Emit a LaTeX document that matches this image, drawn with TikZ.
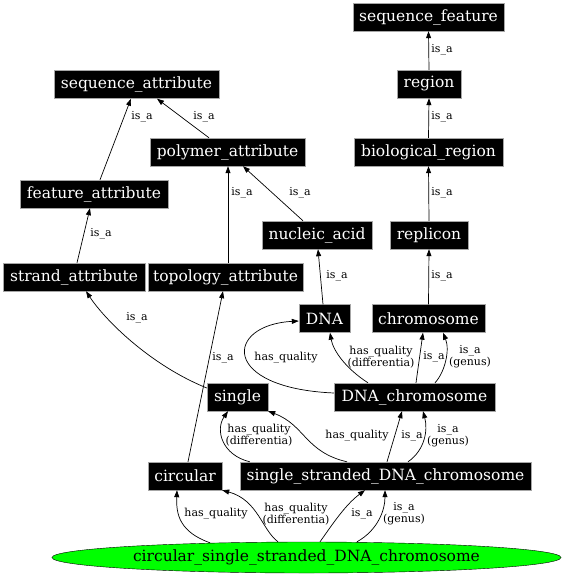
\documentclass[tikz,border=0pt]{standalone}
\usepackage{fontspec}
\setmainfont{DejaVu Serif}
\usetikzlibrary{arrows.meta,shapes.geometric}
\begin{document}
\begin{tikzpicture}[x=1pt,y=-1pt,
  box/.style={draw=gray!70,fill=black,text=white,font=\fontsize{15.5}{18}\selectfont,minimum height=28pt,inner sep=0pt},
  lbl/.style={font=\fontsize{11}{12}\selectfont,align=center,inner sep=0pt},
  edge/.style={-{Triangle[length=7pt,width=5pt]},line width=0.7pt},
]
\useasboundingbox (0,0) rectangle (568,576);
% nodes
\node[box,minimum width=151pt] (sf) at (428.5,17) {sequence\_feature};
\node[box,minimum width=64pt] (region) at (429,84) {region};
\node[box,minimum width=149pt] (bio) at (428.5,152) {biological\_region};
\node[box,minimum width=78pt] (rep) at (429,235) {replicon};
\node[box,minimum width=110pt] (na) at (317,235) {nucleic\_acid};
\node[box,minimum width=165pt] (sa) at (136.5,84.5) {sequence\_attribute};
\node[box,minimum width=155pt] (pa) at (227.5,152) {polymer\_attribute};
\node[box,minimum width=148pt] (fa) at (94,194) {feature\_attribute};
\node[box,minimum width=142pt] (st) at (74,277) {strand\_attribute};
\node[box,minimum width=155pt] (ta) at (225.5,277) {topology\_attribute};
\node[box,minimum width=51pt] (dna) at (324.5,318.5) {DNA};
\node[box,minimum width=113pt] (chr) at (428.5,318.5) {chromosome};
\node[box,minimum width=61pt] (single) at (237.5,397) {single};
\node[box,minimum width=161pt] (dnachr) at (414.5,397) {DNA\_chromosome};
\node[box,minimum width=74pt] (circ) at (185,476) {circular};
\node[box,minimum width=291pt] (ss) at (385.5,476) {single\_stranded\_DNA\_chromosome};
\node[ellipse,draw=black,fill=green,minimum width=509pt,minimum height=31pt,inner sep=0pt,font=\fontsize{15.5}{18}\selectfont] (cs) at (306.5,557.5) {circular\_single\_stranded\_DNA\_chromosome};
% right chain
\draw[edge] (region.north) -- (sf.south);
\draw[edge] (bio.north) -- (region.south);
\draw[edge] (rep.north) -- (bio.south);
\draw[edge] (chr.north) -- (rep.south);
% attributes
\draw[edge] ([xshift=-18.5pt]pa.north) -- ([xshift=20.5pt]sa.south);
\draw[edge] ([xshift=6pt]fa.north) -- ([xshift=-5.5pt]sa.south);
\draw[edge] ([xshift=3pt]st.north) -- ([xshift=-4pt]fa.south);
\draw[edge] ([xshift=2.5pt]ta.north) -- ([xshift=0.5pt]pa.south);
\draw[edge] ([xshift=-14pt]na.north) -- ([xshift=15.5pt]pa.south);
\draw[edge] ([xshift=-1.5pt]dna.north) -- ([xshift=1pt]na.south);
\draw[edge] ([yshift=9pt]single.west) .. controls (150,365) and (105,320) .. ([xshift=12pt]st.south);
\draw[edge] ([xshift=3pt]circ.north) -- ([xshift=-2.5pt]ta.south);
% DNA_chromosome
\draw[edge] ([yshift=4pt]dnachr.west) .. controls (220,388) and (225,325) .. ([yshift=-2.5pt]dna.west);
\draw[edge] ([xshift=-46.5pt]dnachr.north) .. controls (345,368) and (333,350) .. ([xshift=5.5pt]dna.south);
\draw[edge] ([xshift=1.5pt]dnachr.north) -- ([xshift=-5.5pt]chr.south);
\draw[edge] ([xshift=20.5pt]dnachr.north) .. controls (445,372) and (450,350) .. ([xshift=14.5pt]chr.south);
% single_stranded
\draw[edge] ([xshift=10pt]ss.north west) .. controls (222,455) and (215,430) .. ([xshift=-9.5pt]single.south);
\draw[edge] ([xshift=-38.5pt]ss.north) .. controls (305,452) and (305,425) .. (single.south east);
\draw[edge] ([xshift=1.5pt]ss.north) -- ([xshift=-12.5pt]dnachr.south);
\draw[edge] ([xshift=22.5pt]ss.north) .. controls (425,450) and (428,430) .. ([xshift=8.5pt]dnachr.south);
% circular_single_stranded
\draw[edge] ([xshift=-96.5pt,yshift=-1pt]cs.north) .. controls (180,532) and (176,515) .. ([xshift=-8pt]circ.south);
\draw[edge] ([xshift=-28.5pt]cs.north) .. controls (262,530) and (258,500) .. (circ.south east);
\draw[edge] ([xshift=13.5pt]cs.north) .. controls (332,525) and (345,505) .. ([xshift=-20.5pt]ss.south);
\draw[edge] ([xshift=50.5pt]cs.north) .. controls (378,530) and (385,510) .. ([xshift=-0.5pt]ss.south);
% labels
\node[lbl] (l1) at (442,50) {is\_a};
\node[lbl] (l2) at (442,117) {is\_a};
\node[lbl] (l3) at (442,193) {is\_a};
\node[lbl] (l4) at (442,276) {is\_a};
\node[lbl] (l5) at (204,117) {is\_a};
\node[lbl] (l6) at (142,117) {is\_a};
\node[lbl] (l7) at (101,234) {is\_a};
\node[lbl] (l8) at (242,193) {is\_a};
\node[lbl] (l9) at (300,193) {is\_a};
\node[lbl] (l10) at (337,276) {is\_a};
\node[lbl] (l11) at (137,318) {is\_a};
\node[lbl] (l12) at (223,358) {is\_a};
\node[lbl] (l13) at (286,358) {has\_quality};
\node[lbl] (l14) at (381,357) {has\_quality\\(differentia)};
\node[lbl] (l15) at (434,357) {is\_a};
\node[lbl] (l16) at (470,357) {is\_a\\(genus)};
\node[lbl] (l17) at (259,435) {has\_quality\\(differentia)};
\node[lbl] (l18) at (357,436) {has\_quality};
\node[lbl] (l19) at (412,436) {is\_a};
\node[lbl] (l20) at (448,436) {is\_a\\(genus)};
\node[lbl] (l21) at (216,514) {has\_quality};
\node[lbl] (l22) at (296,514) {has\_quality\\(differentia)};
\node[lbl] (l23) at (362,514) {is\_a};
\node[lbl] (l24) at (404,514) {is\_a\\(genus)};
\end{tikzpicture}
\end{document}
